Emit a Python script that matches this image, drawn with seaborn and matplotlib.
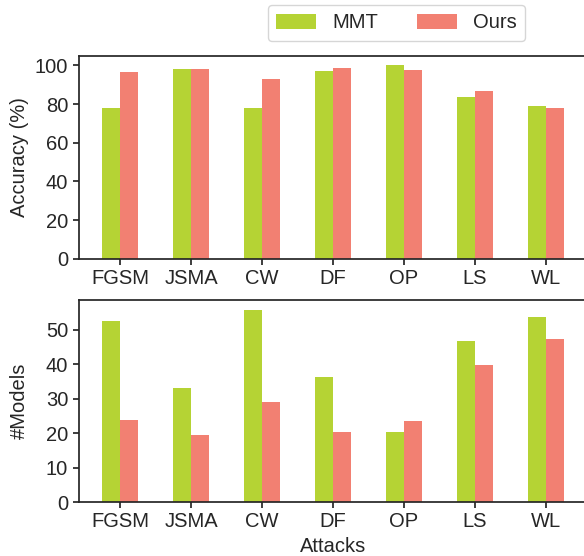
import pandas as pd
import matplotlib
matplotlib.use('Agg')
import matplotlib.pyplot as plt
import seaborn as sns

# =========================
# DANE
# =========================

attacks = ['FGSM', 'JSMA', 'CW', 'DF', 'OP', 'LS', 'WL']
methods = ['MMT', 'Ours']

acc_mmt = [77.8, 98.0, 77.8, 97.0, 100.0, 83.4, 78.8]
acc_ours = [96.4, 98.0, 92.8, 98.5, 97.4, 86.5, 77.8]

models_mmt = [52.7, 33.3, 55.9, 36.5, 20.3, 46.9, 53.9]
models_ours = [24.0, 19.4, 29.2, 20.3, 23.7, 39.7, 47.5]

colors = ['#b5d334', '#f28072']

df = pd.DataFrame({
    'attack': attacks * 2,
    'method': [methods[0]] * len(attacks) + [methods[1]] * len(attacks),
    'acc': acc_mmt + acc_ours,
    'models': models_mmt + models_ours,
})

# =========================
# STYL
# =========================

sns.set_theme(style='ticks')
plt.rcParams['font.family'] = ['Liberation Sans', 'DejaVu Sans']
fs = 14.5
plt.rcParams['font.size'] = fs
plt.rcParams['axes.labelsize'] = fs
plt.rcParams['xtick.labelsize'] = fs
plt.rcParams['ytick.labelsize'] = fs
plt.rcParams['xtick.major.size'] = 4.3
plt.rcParams['ytick.major.size'] = 4.3
plt.rcParams['xtick.major.pad'] = 3
plt.rcParams['ytick.major.pad'] = 3.5

fig = plt.figure(figsize=(5.84, 5.56), dpi=100)
ax1 = fig.add_axes([0.1353, 0.5347, 0.870, 0.3651])
ax2 = fig.add_axes([0.1353, 0.0966, 0.870, 0.3638])

# =========================
# WYKRES 1 — Accuracy
# =========================

sns.barplot(data=df, x='attack', y='acc', hue='method', palette=colors,
            width=0.5, saturation=1, linewidth=0, ax=ax1, legend=True)
ax1.set_xlim(-0.58, 6.58)
ax1.set_ylim(0, 105)
ax1.set_yticks([0, 20, 40, 60, 80, 100])
ax1.set_xlabel('')
ax1.set_ylabel('Accuracy (%)')

# =========================
# WYKRES 2 — #Models
# =========================

sns.barplot(data=df, x='attack', y='models', hue='method', palette=colors,
            width=0.5, saturation=1, linewidth=0, ax=ax2, legend=False)
ax2.set_xlim(-0.58, 6.58)
ax2.set_ylim(0, 58.7)
ax2.set_yticks([0, 10, 20, 30, 40, 50])
ax2.set_xlabel('Attacks')
ax2.set_ylabel('#Models')

ax1.yaxis.set_label_coords(-0.098, 0.5)
ax2.yaxis.set_label_coords(-0.098, 0.5)

# legenda
handles, labels = ax1.get_legend_handles_labels()
ax1.get_legend().remove()
fig.legend(handles, labels, loc='center', bbox_to_anchor=(396.5 / 584, 1 - 23 / 556),
           ncol=2, frameon=True, fontsize=fs, handlelength=2.0, handleheight=0.75,
           handletextpad=0.8, columnspacing=1.9, borderpad=0.4)

fig.savefig('out.png', dpi=100)
